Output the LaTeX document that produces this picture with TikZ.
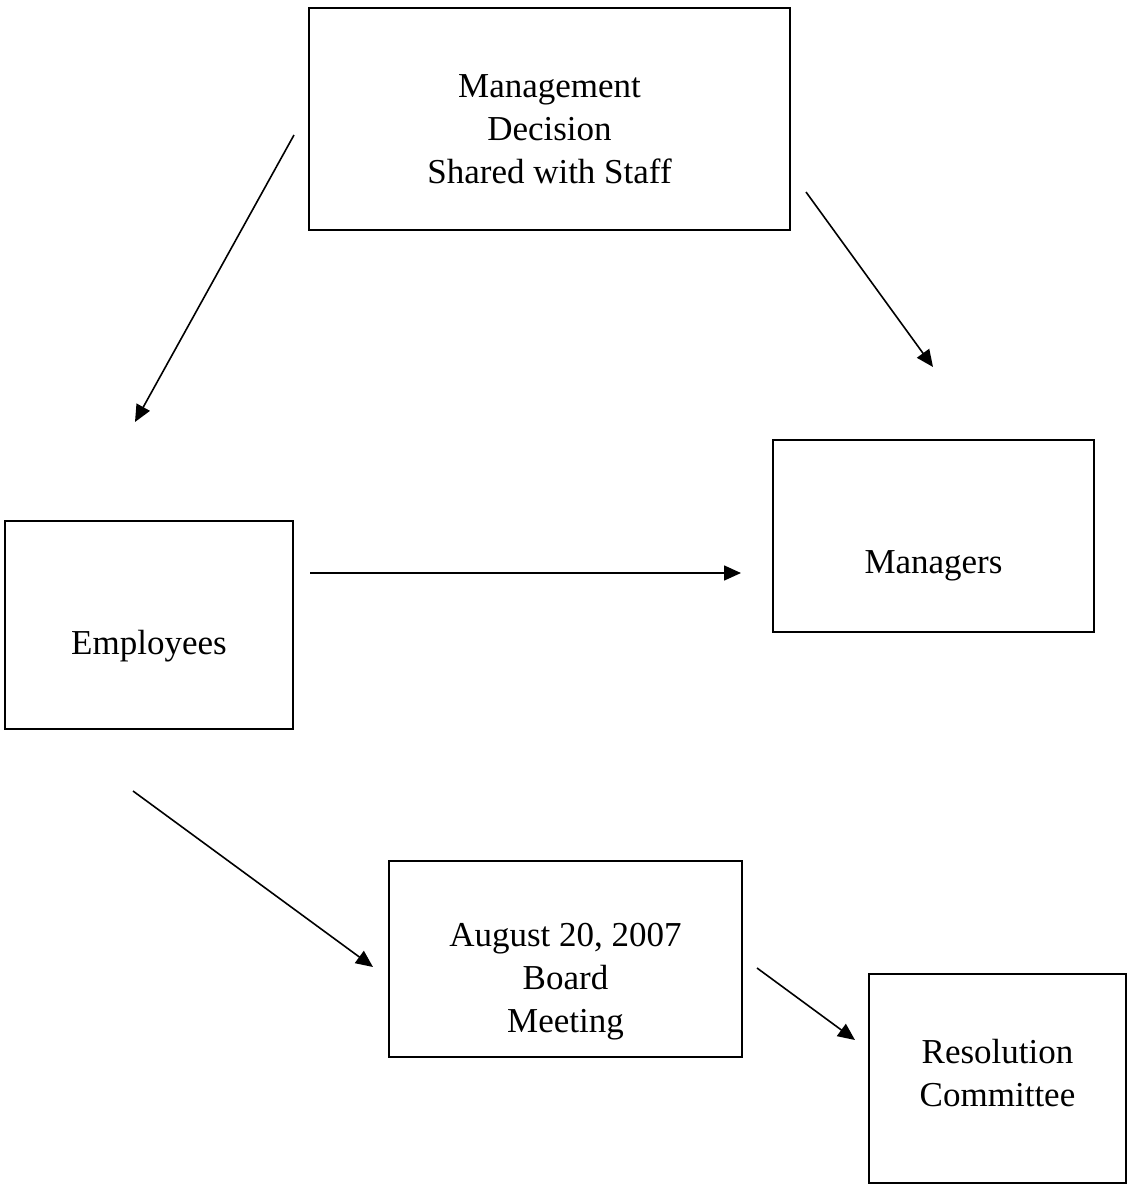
\documentclass[tikz,border=0pt]{standalone}
\usepackage{fontspec}
\setmainfont{Liberation Serif}
\usetikzlibrary{arrows.meta}
\begin{document}
\begin{tikzpicture}[x=1pt,y=-1pt,
  box/.style={draw,line width=1.6pt,inner sep=0pt},
  lbl/.style={align=center,font=\fontsize{35}{43}\selectfont,inner sep=0pt},
  arr/.style={line width=1.6pt,-{Triangle[length=17pt,width=15pt]}}]
\useasboundingbox (0,0) rectangle (1128,1184);
% boxes
\draw[box] (309,8) rectangle (790,230) node[pos=0.5,lbl,yshift=-10pt] (mgmt) {Management\\Decision\\Shared with Staff};
\draw[box] (773,440) rectangle (1094,632) node[pos=0.5,lbl,yshift=-30pt] (mgr) {Managers};
\draw[box] (5,521) rectangle (293,729) node[pos=0.5,lbl,yshift=-21pt] (emp) {Employees};
\draw[box] (389,861) rectangle (742,1057) node[pos=0.5,lbl,yshift=-23pt] (board) {August 20, 2007\\Board\\Meeting};
\draw[box] (869,974) rectangle (1126,1183) node[pos=0.5,lbl,yshift=5pt] (res) {Resolution\\Committee};
% arrow endpoints
\coordinate (a1s) at (294,135); \coordinate (a1e) at (135,422);
\coordinate (a2s) at (806,192); \coordinate (a2e) at (933,367);
\coordinate (a3s) at (310,573); \coordinate (a3e) at (741,573);
\coordinate (a4s) at (133,791); \coordinate (a4e) at (373,967);
\coordinate (a5s) at (757,968); \coordinate (a5e) at (855,1040);
\draw[arr] (a1s) -- (a1e);
\draw[arr] (a2s) -- (a2e);
\draw[arr] (a3s) -- (a3e);
\draw[arr] (a4s) -- (a4e);
\draw[arr] (a5s) -- (a5e);
\end{tikzpicture}
\end{document}
